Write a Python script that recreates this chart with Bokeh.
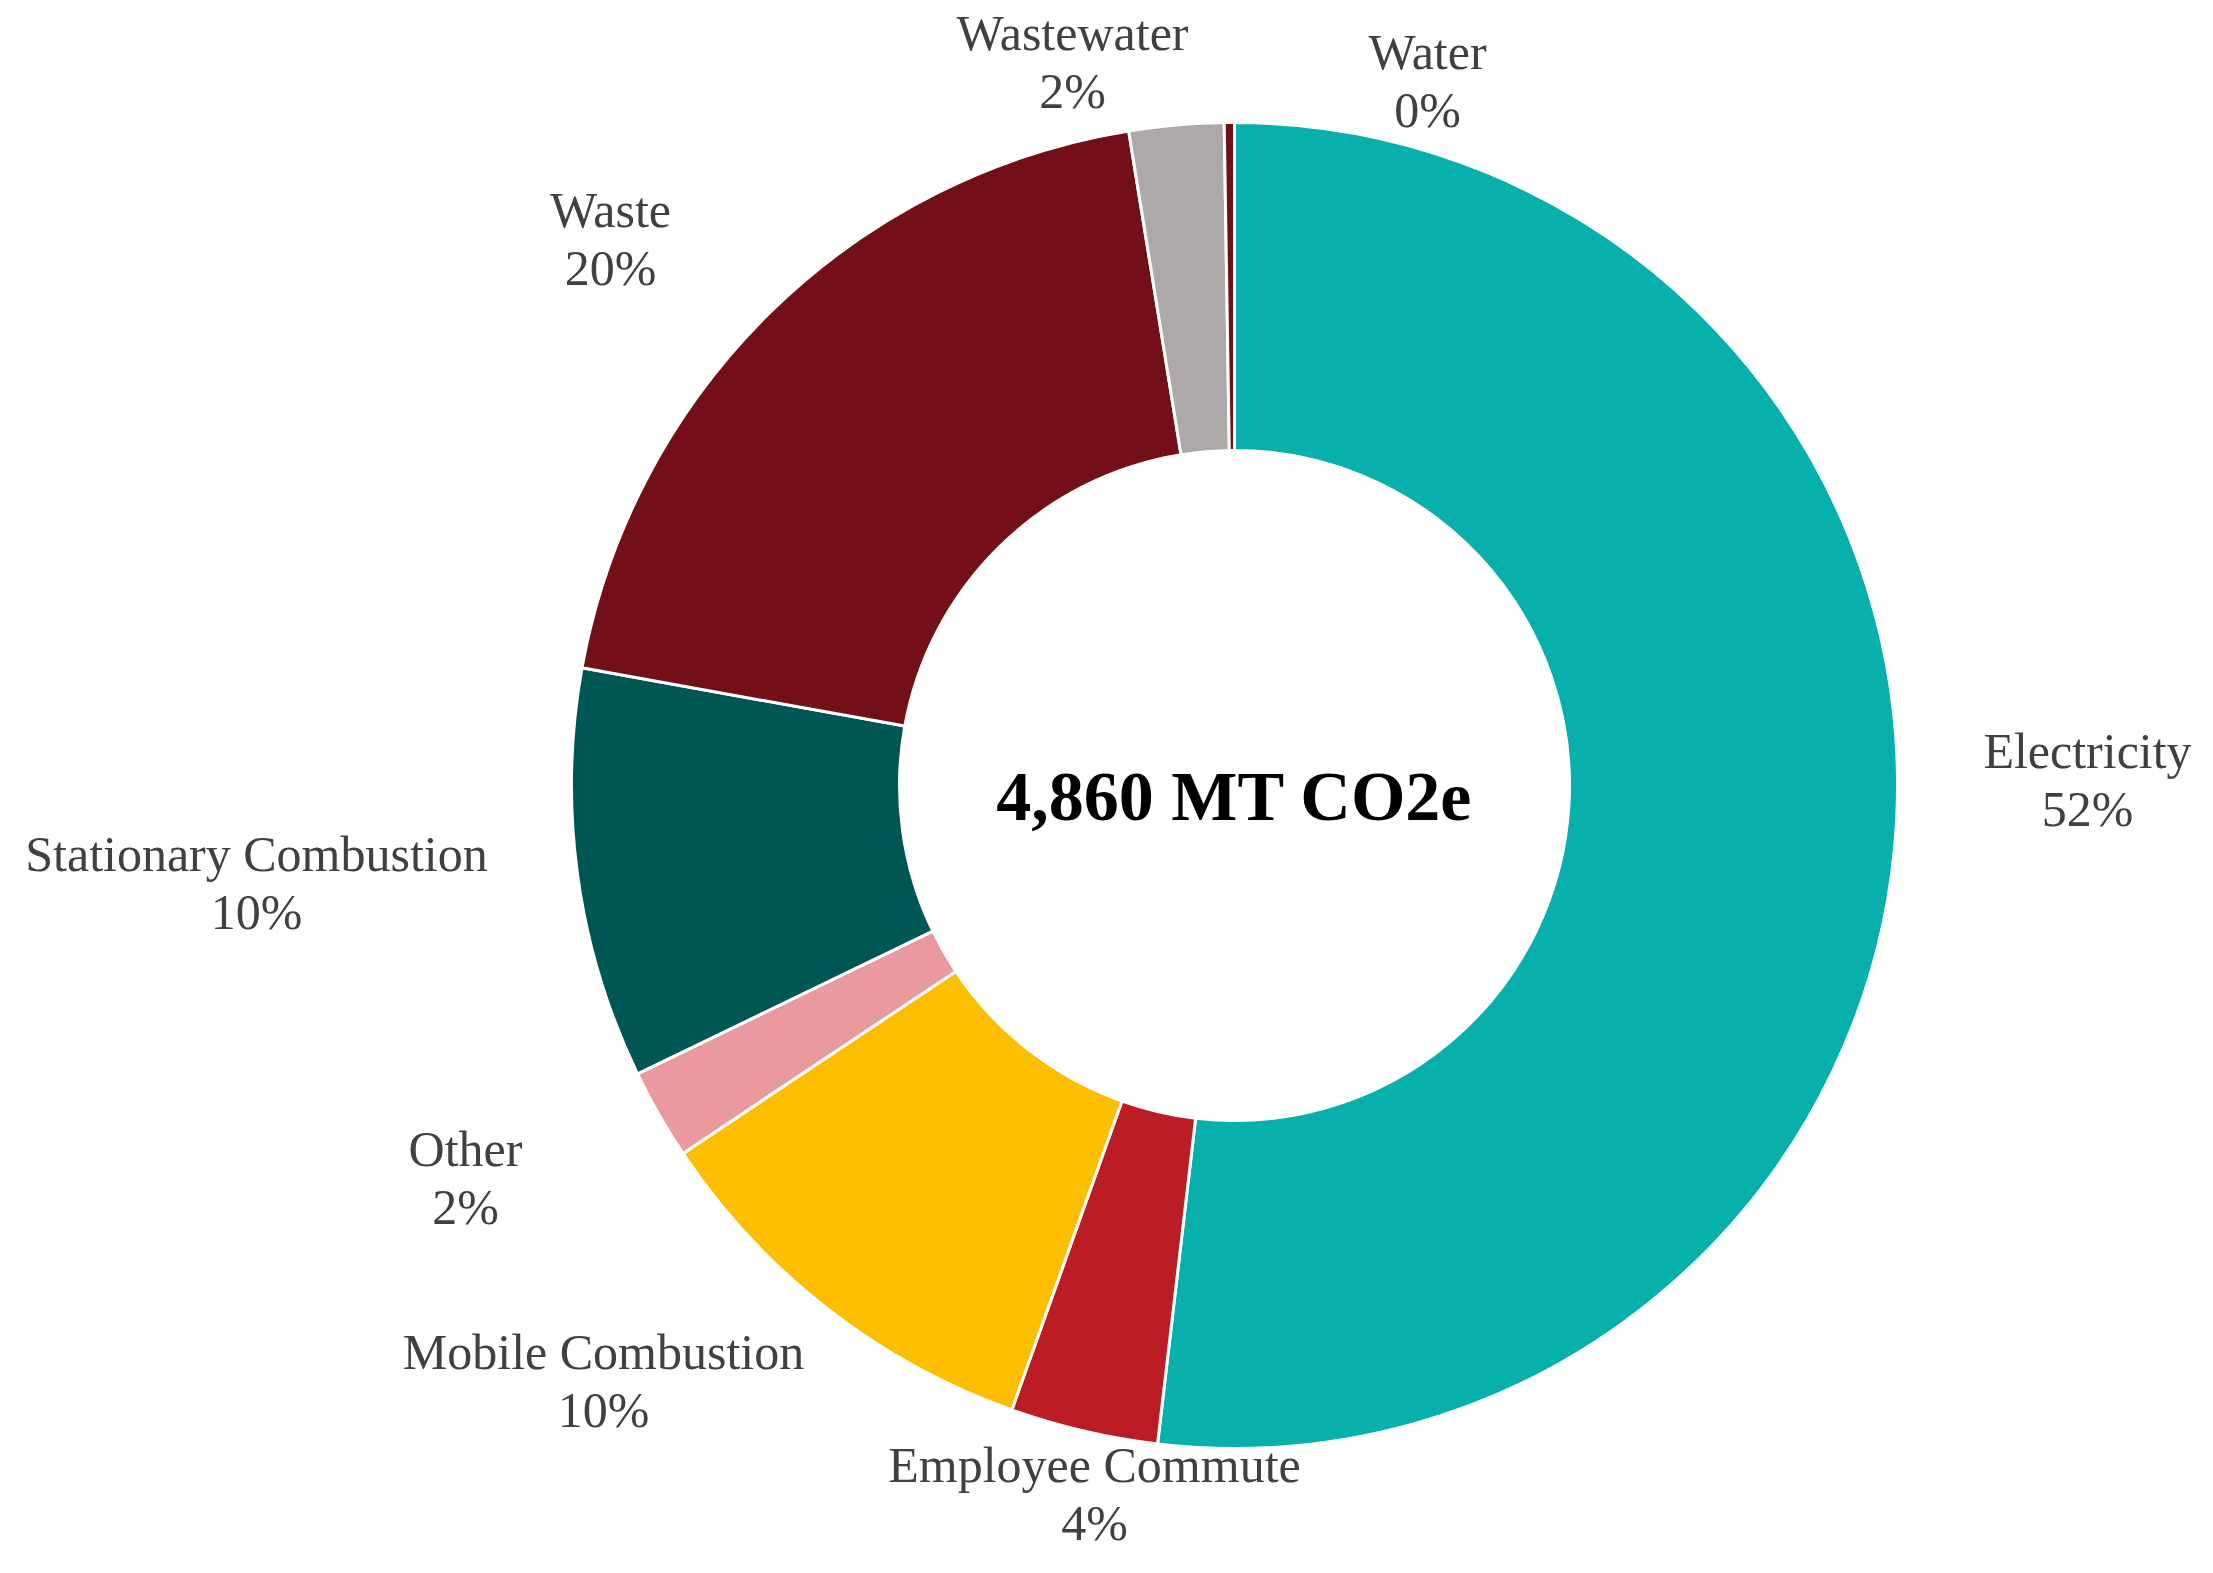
import numpy as np
from bokeh.plotting import figure
from bokeh.models import ColumnDataSource, Range1d
from bokeh.core.properties import value
from bokeh.embed import file_html
from bokeh.resources import INLINE

# ---- data ----
categories = ["Electricity", "Employee Commute", "Mobile Combustion", "Other",
              "Stationary Combustion", "Waste", "Wastewater", "Water"]
emissions = [2520, 175, 495, 107, 486, 953, 112, 12]
colors = ["#07B0AA", "#BC1C23", "#FDBE00", "#EA9A9E",
          "#005555", "#730F16", "#ADA9A8", "#730F16"]

# ---- layout (pixel positions of label blocks, y downward) ----
CX, CY = 1235, 786
R_OUT, R_IN = 663, 335
label_pos = [(2088, 780), (1095, 1494), (604, 1381), (466, 1178),
             (257, 883), (611, 239), (1073, 62), (1428, 81)]
LINE_GAP = 29

vals = np.array(emissions, dtype=float)
total = vals.sum()
frac = vals / total
cum = np.concatenate([[0], np.cumsum(frac)])
start = np.pi / 2 - cum[:-1] * 2 * np.pi
end = np.pi / 2 - cum[1:] * 2 * np.pi
pct = [f"{int(round(f * 100))}%" for f in frac]

W, H = 2197, 1557
OFF = 1
p = figure(width=W, height=H, output_backend="svg", toolbar_location=None,
           x_range=Range1d(OFF, OFF + W), y_range=Range1d(-(OFF + H), -OFF),
           min_border=0, outline_line_color=None)
p.axis.visible = False
p.grid.visible = False

src = ColumnDataSource(dict(start=start, end=end, color=colors, cat=categories))
p.annular_wedge(x=CX, y=-CY, inner_radius=R_IN, outer_radius=R_OUT,
                start_angle="start", end_angle="end", direction="clock",
                fill_color="color", line_color="white", line_width=3, source=src)

lx = [q[0] for q in label_pos]
ly = [q[1] for q in label_pos]
lsrc = ColumnDataSource(dict(x=lx, yn=[-(y - LINE_GAP) for y in ly],
                             yp=[-(y + LINE_GAP) for y in ly],
                             name=categories, pct=pct))
font = value("Liberation Serif")
p.text(x="x", y="yn", text="name", source=lsrc, text_font=font,
       text_font_size="50px", text_color="#404040",
       text_align="center", text_baseline="middle")
p.text(x="x", y="yp", text="pct", source=lsrc, text_font=font,
       text_font_size="50px", text_color="#404040",
       text_align="center", text_baseline="middle")

p.text(x=[CX], y=[-797], text=[f"{int(total):,} MT CO2e"], text_font=font,
       text_font_size="70px", text_font_style="bold", text_color="#000000",
       text_align="center", text_baseline="middle")

open("out.html", "w").write(file_html(p, INLINE))
